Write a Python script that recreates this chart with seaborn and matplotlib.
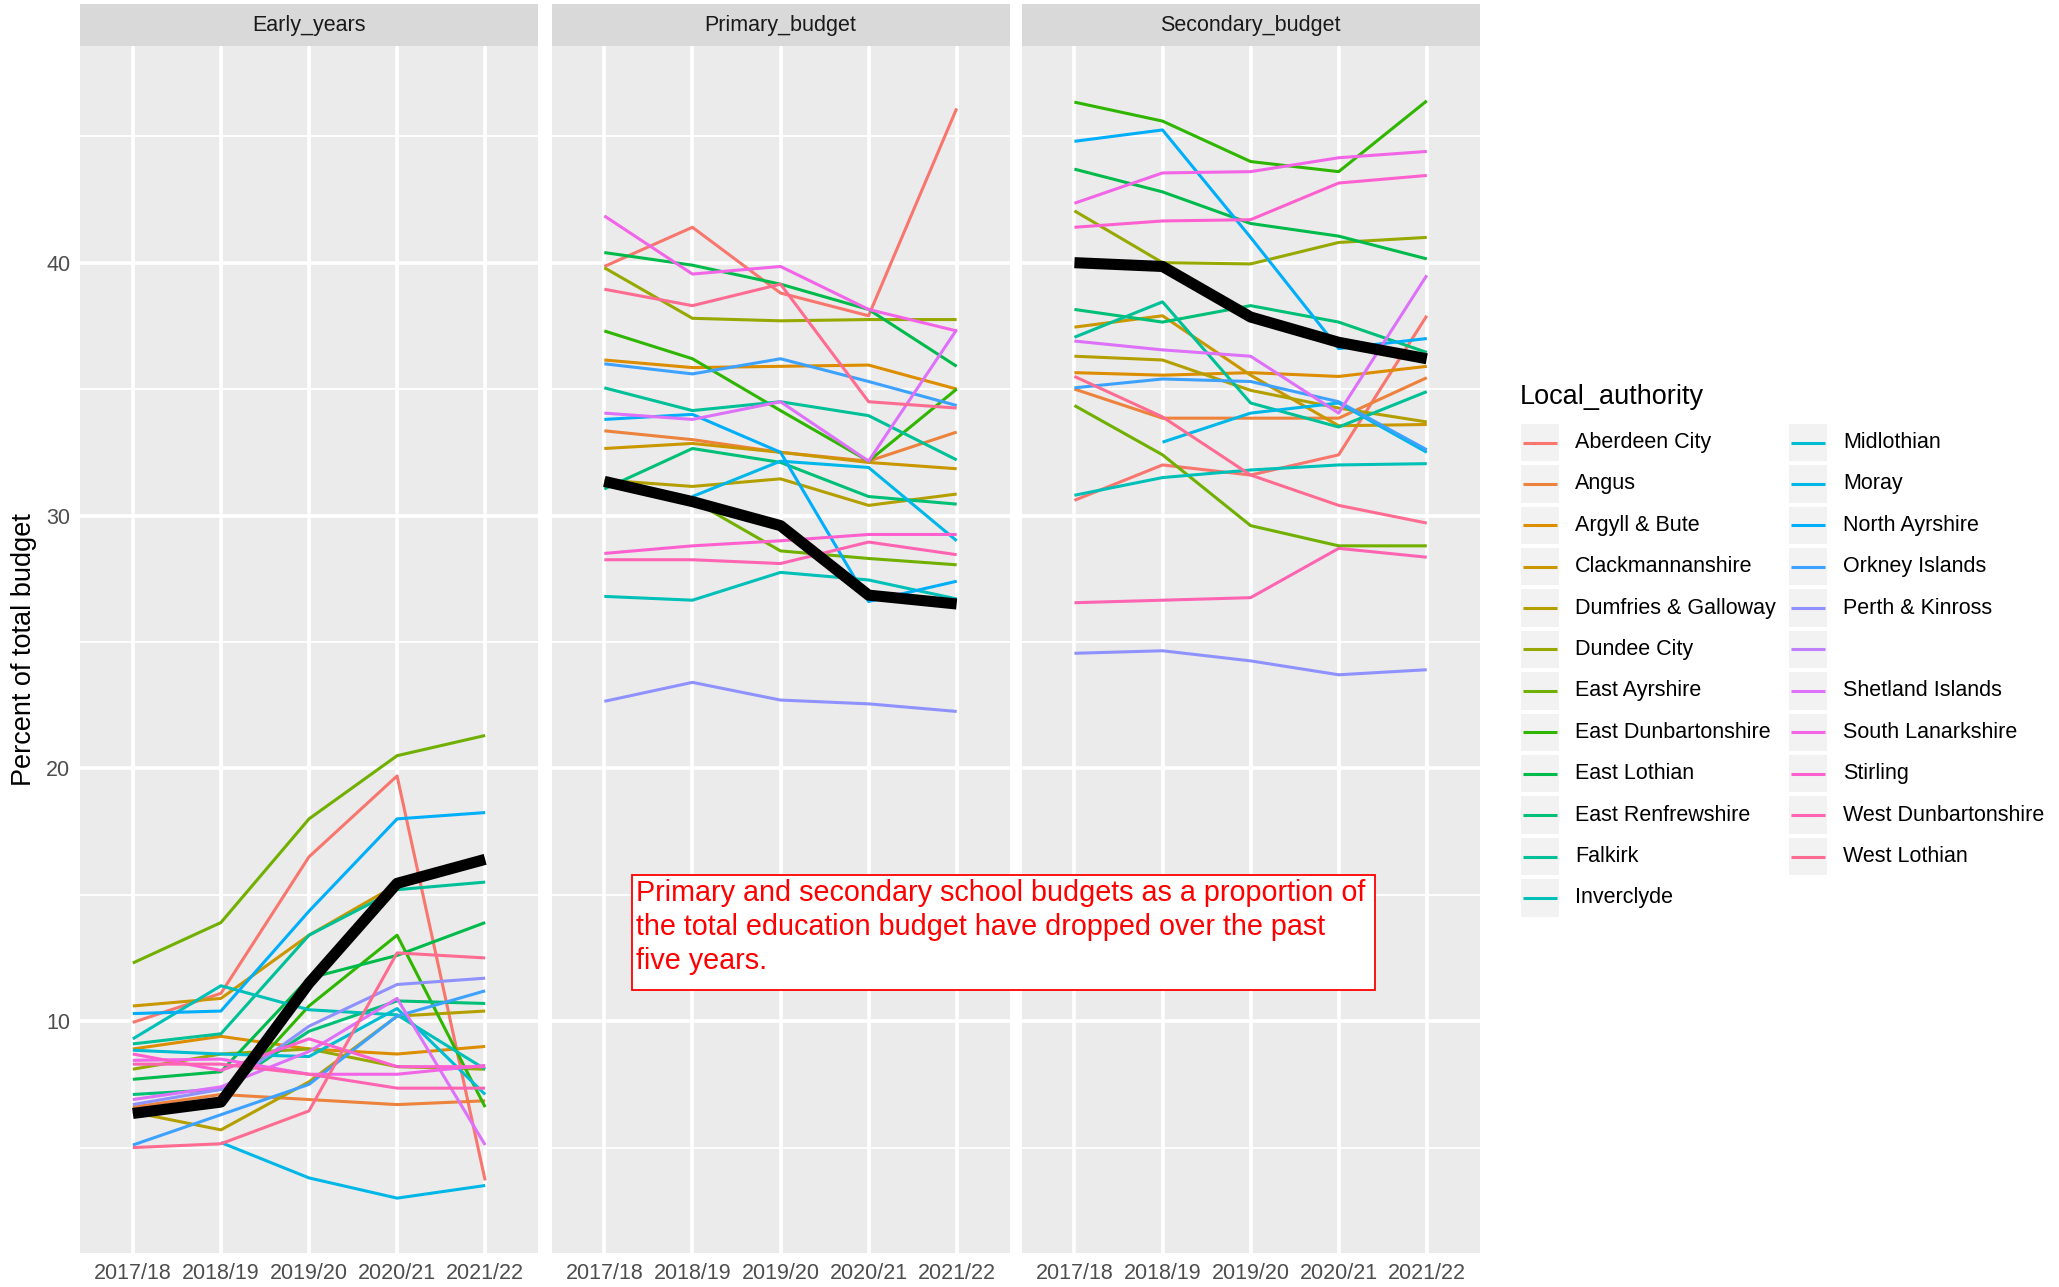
import numpy as np
import pandas as pd
import matplotlib
matplotlib.use("Agg")
import matplotlib.pyplot as plt
from matplotlib.patches import Rectangle
from matplotlib.lines import Line2D
from matplotlib.ticker import MultipleLocator
import seaborn as sns

nan = np.nan

# data
years = ["2017/18", "2018/19", "2019/20", "2020/21", "2021/22"]
budgets = ["Early_years", "Primary_budget", "Secondary_budget"]
authorities = ["Aberdeen City", "Angus", "Argyll & Bute", "Clackmannanshire",
               "Dumfries & Galloway", "Dundee City", "East Ayrshire",
               "East Dunbartonshire", "East Lothian", "East Renfrewshire",
               "Falkirk", "Inverclyde", "Midlothian", "Moray", "North Ayrshire",
               "Orkney Islands", "Perth & Kinross", "", "Shetland Islands",
               "South Lanarkshire", "Stirling", "West Dunbartonshire",
               "West Lothian"]

early_years = [
    [9.95, 11.1, 16.5, 19.7, 3.7],
    [6.6, 7.1, 6.9, 6.7, 6.85],
    [8.9, 9.4, 8.9, 8.7, 9.0],
    [10.6, 10.9, 13.4, 15.4, 16.3],
    [6.4, 5.7, 7.6, 10.2, 10.4],
    [8.1, 8.7, 8.9, 8.2, 8.1],
    [12.3, 13.9, 18.0, 20.5, 21.3],
    [6.5, 6.8, 10.6, 13.4, 6.6],
    [7.7, 8.0, 11.7, 12.6, 13.9],
    [7.1, 7.3, 9.6, 10.8, 10.7],
    [9.1, 9.5, 13.4, 15.2, 15.5],
    [9.3, 11.4, 10.45, 10.25, 8.1],
    [8.85, 8.7, 8.6, 10.5, 7.1],
    [nan, 5.2, 3.8, 3.0, 3.5],
    [10.3, 10.4, 14.35, 18.0, 18.25],
    [5.1, 6.3, 7.5, 10.2, 11.2],
    [6.7, 7.3, 9.8, 11.45, 11.7],
    [nan, nan, nan, nan, nan],
    [6.9, 7.4, 8.8, 10.9, 5.1],
    [8.45, 8.5, 7.9, 7.9, 8.25],
    [8.7, 8.05, 9.3, 8.2, 8.2],
    [8.3, 8.3, 7.9, 7.35, 7.35],
    [5.0, 5.15, 6.45, 12.7, 12.5],
]

primary_budget = [
    [39.85, 41.4, 38.8, 37.9, 46.1],
    [33.35, 33.0, 32.5, 32.15, 33.3],
    [36.15, 35.85, 35.9, 35.95, 35.0],
    [32.65, 32.85, 32.5, 32.1, 31.85],
    [31.4, 31.15, 31.45, 30.4, 30.85],
    [39.8, 37.8, 37.7, 37.75, 37.75],
    [31.3, 30.6, 28.6, 28.3, 28.05],
    [37.3, 36.2, 34.15, 32.15, 35.0],
    [40.4, 39.9, 39.15, 38.15, 35.9],
    [31.05, 32.65, 32.1, 30.75, 30.45],
    [35.05, 34.15, 34.5, 33.95, 32.2],
    [26.8, 26.65, 27.75, 27.45, 26.7],
    [nan, nan, nan, nan, nan],
    [nan, 30.75, 32.15, 31.9, 29.0],
    [33.8, 34.0, 32.5, 26.6, 27.4],
    [36.0, 35.6, 36.2, 35.3, 34.35],
    [22.65, 23.4, 22.7, 22.55, 22.25],
    [nan, nan, nan, nan, nan],
    [34.05, 33.8, 34.5, 32.15, 37.35],
    [41.85, 39.55, 39.85, 38.15, 37.3],
    [28.5, 28.8, 29.0, 29.25, 29.25],
    [28.25, 28.25, 28.1, 28.95, 28.45],
    [38.95, 38.3, 39.15, 34.5, 34.25],
]

secondary_budget = [
    [30.6, 32.0, 31.6, 32.4, 37.9],
    [35.0, 33.85, 33.85, 33.85, 35.45],
    [35.65, 35.55, 35.65, 35.5, 35.9],
    [37.45, 37.9, 35.55, 33.55, 33.6],
    [36.3, 36.15, 34.95, 34.25, 33.7],
    [42.05, 40.0, 39.95, 40.8, 41.0],
    [34.35, 32.4, 29.6, 28.8, 28.8],
    [46.35, 45.6, 44.0, 43.6, 46.4],
    [43.7, 42.8, 41.55, 41.05, 40.15],
    [38.15, 37.65, 38.3, 37.65, 36.45],
    [37.05, 38.45, 34.45, 33.5, 34.9],
    [30.8, 31.5, 31.8, 32.0, 32.05],
    [nan, nan, nan, nan, nan],
    [nan, 32.9, 34.05, 34.45, 32.5],
    [44.8, 45.25, 41.0, 36.6, 37.0],
    [35.05, 35.4, 35.3, 34.5, 32.6],
    [24.55, 24.65, 24.25, 23.7, 23.9],
    [nan, nan, nan, nan, nan],
    [36.9, 36.55, 36.3, 34.05, 39.5],
    [42.35, 43.55, 43.6, 44.15, 44.4],
    [41.4, 41.65, 41.7, 43.15, 43.45],
    [26.55, 26.65, 26.75, 28.7, 28.35],
    [35.5, 33.9, 31.6, 30.4, 29.7],
]

# Scotland-wide average (thick black line)
scotland_early = [6.35, 6.8, 11.5, 15.45, 16.4]
scotland_primary = [31.35, 30.55, 29.6, 26.85, 26.5]
scotland_secondary = [40.0, 39.85, 37.85, 36.85, 36.2]

note_lines = ["Primary and secondary school budgets as a proportion of",
              "the total education budget have dropped over the past",
              "five years."]


def gg_hue(n, l=65, c=100):
    # ggplot2 default discrete colour scale (HCL hues)
    out = []
    xn, yn, zn = 0.95047, 1.0, 1.08883
    den = xn + 15 * yn + 3 * zn
    un, vn = 4 * xn / den, 9 * yn / den
    for h in np.linspace(15, 375, n + 1)[:-1]:
        U = c * np.cos(np.radians(h))
        V = c * np.sin(np.radians(h))
        Y = ((l + 16) / 116) ** 3
        u = U / (13 * l) + un
        v = V / (13 * l) + vn
        X = Y * 9 * u / (4 * v)
        Z = Y * (12 - 3 * u - 20 * v) / (4 * v)
        rgb = np.array([3.240479 * X - 1.537150 * Y - 0.498535 * Z,
                        -0.969256 * X + 1.875992 * Y + 0.041556 * Z,
                        0.055648 * X - 0.204043 * Y + 1.057311 * Z])
        rgb = np.where(rgb <= 0.0031308, 12.92 * rgb,
                       1.055 * np.abs(rgb) ** (1 / 2.4) - 0.055)
        out.append(tuple(np.clip(rgb, 0, 1)))
    return out


colors = gg_hue(len(authorities))
palette = dict(zip(authorities, colors))

rows = []
for b, table in zip(budgets, [early_years, primary_budget, secondary_budget]):
    for name, vals in zip(authorities, table):
        for yr, v in zip(years, vals):
            if not np.isnan(v):
                rows.append((b, name, yr, v))
df = pd.DataFrame(rows, columns=["Budget", "Local_authority", "Year", "Percent"])
df["Year"] = pd.Categorical(df["Year"], categories=years)
means = dict(zip(budgets, [scotland_early, scotland_primary, scotland_secondary]))

sns.set_theme(style="darkgrid")
plt.rcParams["font.family"] = ["Liberation Sans", "DejaVu Sans"]

W, H = 2059, 1287
fig = plt.figure(figsize=(W / 100, H / 100), dpi=100)
fig.patch.set_facecolor("white")

lo, hi = df["Percent"].min(), df["Percent"].max()
pad = (hi - lo) * 0.05

panel_left = [80, 551.5, 1021.6]
panel_w = 458
top, bottom = 46, 1253
strip_h = 42

for i, b in enumerate(budgets):
    ax = fig.add_axes([panel_left[i] / W, 1 - bottom / H, panel_w / W, (bottom - top) / H])
    ax.set_facecolor("#EBEBEB")
    sub = df[df["Budget"] == b]
    sns.lineplot(data=sub, x="Year", y="Percent", hue="Local_authority",
                 hue_order=[a for a in authorities if a], palette=palette,
                 linewidth=2.2, errorbar=None, legend=False, ax=ax,
                 solid_capstyle="butt", solid_joinstyle="round")
    sns.lineplot(x=pd.Categorical(years, categories=years), y=means[b],
                 color="black", linewidth=8, errorbar=None, ax=ax,
                 solid_capstyle="butt", solid_joinstyle="round")
    ax.set_xlim(-0.6, 4.6)
    ax.set_ylim(lo - pad, hi + pad)
    ax.yaxis.set_major_locator(MultipleLocator(10))
    ax.yaxis.set_minor_locator(MultipleLocator(5))
    ax.grid(which="major", color="white", linewidth=2.6)
    ax.grid(which="minor", axis="y", color="white", linewidth=1.3)
    ax.set_axisbelow(True)
    for s in ax.spines.values():
        s.set_visible(False)
    ax.set_xlabel("")
    ax.set_ylabel("")
    ax.tick_params(axis="x", length=5, width=2.2, color="#333333",
                   labelsize=15.5, labelcolor="#4D4D4D", pad=2.5)
    ax.tick_params(which="minor", length=0)
    if i == 0:
        ax.tick_params(axis="y", length=5, width=2.2, color="#333333",
                       labelsize=15.5, labelcolor="#4D4D4D", pad=2)
    else:
        ax.tick_params(axis="y", length=0, labelleft=False)
    # facet strip
    ax.add_patch(Rectangle((0, 1), 1, strip_h / (bottom - top), transform=ax.transAxes,
                           facecolor="#D9D9D9", edgecolor="none", clip_on=False))
    ax.text(0.5, 1 + strip_h / 2 / (bottom - top), b, transform=ax.transAxes,
            ha="center", va="center", fontsize=15.5, color="#1A1A1A")

fig.text(23.6 / W, 1 - 650 / H, "Percent of total budget", rotation=90,
         ha="center", va="center", fontsize=19.5, color="black")

# legend laid out like ggplot: two columns, grey key boxes
fig.text(1519.6 / W, 1 - 396.5 / H, "Local_authority", ha="left", va="center",
         fontsize=19.5, color="black")
key = 37.5
for j, name in enumerate(authorities):
    col, row = divmod(j, 12)
    kx = [1521, 1789][col]
    ky = 442.5 + row * 41.4
    fig.add_artist(Rectangle((kx / W, 1 - (ky + key / 2) / H), key / W, key / H,
                             transform=fig.transFigure, facecolor="#F2F2F2",
                             edgecolor="none"))
    fig.add_artist(Line2D([(kx + 1.5) / W, (kx + key - 2) / W], [1 - ky / H] * 2,
                          transform=fig.transFigure, color=colors[j], linewidth=2.2,
                          solid_capstyle="butt"))
    fig.text([1575, 1843][col] / W, 1 - ky / H, name, ha="left", va="center",
             fontsize=15.5, color="black")

# annotation box
fig.add_artist(Rectangle((631.6 / W, 1 - 990 / H), (1374.8 - 631.6) / W, (990 - 874.5) / H,
                         transform=fig.transFigure, facecolor="white",
                         edgecolor="#FF0000", linewidth=1.3))
for k, line in enumerate(note_lines):
    fig.text(636 / W, 1 - (893 + k * 34.2) / H, line, ha="left", va="center",
             fontsize=20.7, color="#FF0000")

fig.savefig("out.png", dpi=100)
